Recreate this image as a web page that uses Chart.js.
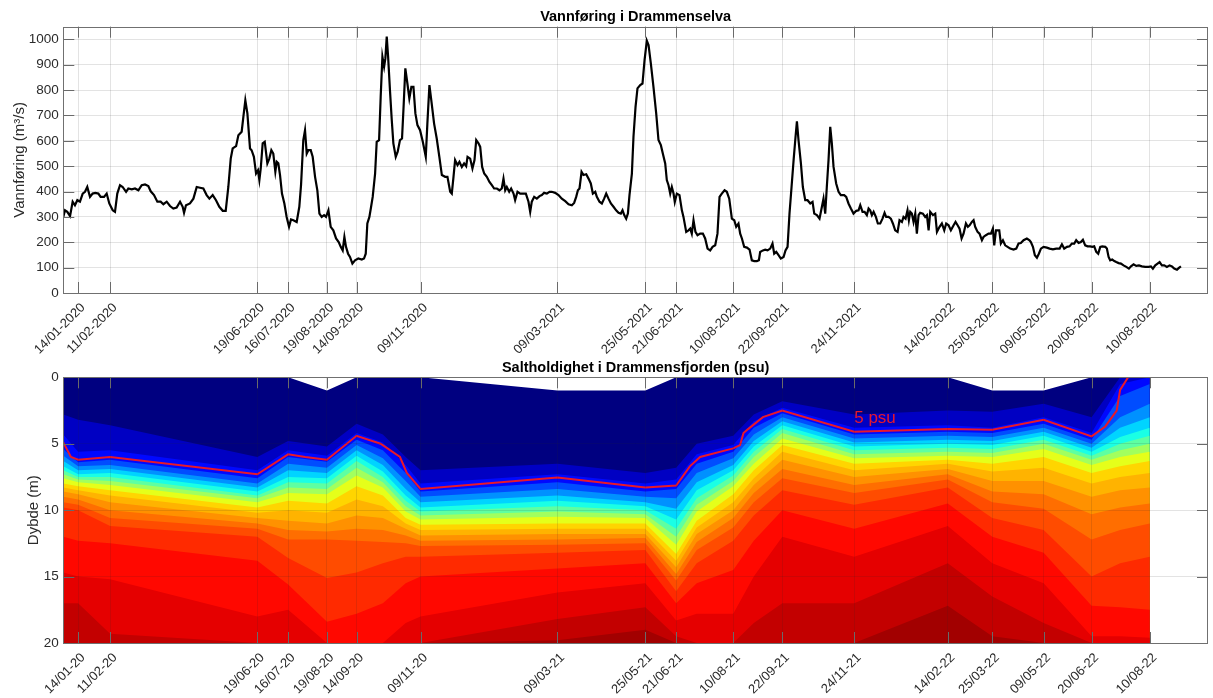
<!DOCTYPE html>
<html><head><meta charset="utf-8"><title>Vannføring og saltholdighet</title>
<script src="https://cdn.jsdelivr.net/npm/chart.js@4.4.1/dist/chart.umd.min.js"></script>
<style>
html,body{margin:0;padding:0;background:#fff;}
body{width:1213px;height:698px;position:relative;overflow:hidden;}
canvas{position:absolute;left:0;}
#flow{top:0;}
#salt{top:350px;}
</style></head><body>
<canvas id="flow" width="1213" height="360"></canvas>
<canvas id="salt" width="1213" height="348"></canvas>
<script>
// ---------- axis ticks (days since 01/01-2020) ----------
const tickDays = [13,41,170,197,231,257,313,433,510,537,587,630,693,775,814,859,901,952];
const tickLabelsFlow = ['14/01-2020','11/02-2020','19/06-2020','16/07-2020','19/08-2020','14/09-2020','09/11-2020','09/03-2021','25/05-2021','21/06-2021','10/08-2021','22/09-2021','24/11-2021','14/02-2022','25/03-2022','09/05-2022','20/06-2022','10/08-2022'];
const tickLabelsSalt = ['14/01-20','11/02-20','19/06-20','16/07-20','19/08-20','14/09-20','09/11-20','09/03-21','25/05-21','21/06-21','10/08-21','22/09-21','24/11-21','14/02-22','25/03-22','09/05-22','20/06-22','10/08-22'];
const X_MIN = 0, X_MAX = 1003;

// ---------- Vannføring (m3/s) ----------
const flowDayA = [0,1.5,3.5,5.9,8.2,10.2,12.3,14.6,17,19,
21,23.4,25.7,28,30.7,32.7,35.7,38,40.3,43.3,
45.3,47.3,49.7,52,55,57,60,62.8,65.8,68.7,
71.6,74.5,76.6,79.5,82.4,85.3,87.7,90.6,93.5,96.4,
99.3,102.3,104.6,105.8,107.5,111,114,116.9,119.8,122.7,
125.6,128,130.9,133.8,136.7,139.7,142.3,144.6,146.7,148.4,
151.4,153.4,156.3,157.8,159.5,161.3,163.6];
const flowQA = [300,326,320,303,360,346,366,360,392,399,
418,379,392,395,392,379,379,392,353,326,
320,392,425,418,399,412,409,412,405,425,
428,422,401,386,360,360,350,360,343,333,
337,360,340,316,346,353,372,418,415,412,
386,372,386,366,340,324,324,418,530,570,
579,622,636,695,760,708,570];
const flowDayB = [165,167,168.9,170.6,171.8,173,174.7,176.5,178.8,180.5,
182.3,184,185.8,187,188.4,189.9,191.6,193.7,195.7,197.8,
199.5,201.6,204.5,206.8,208.3,210.3,211.8,213.3,214.7,216.8,
218.5,220.6,222.6,224.4,226.4,228.5,230.2,232.3,234.3,236.6,
239,241.3,243.1,244.8,246.3,247.7,249.5,251.2,253.3,255.6,
258.5,261.5,263.5,265,266.4,268.2,269.7,271.1,273.2,274.6,
276.7,278.1,279.6,281.1,282.2,283.4,284.6,286.3,287.8,289.2,
291.3,293,295,296.8,298.3,299.7,301.5,303.2,305,306.8,
308.5,310.3,312.6,315,317.6,319,320.8,322.8,324.9,327.2,
329.5];
const flowQB = [563,537,471,484,445,491,590,596,511,530,
563,550,478,517,511,465,392,353,300,261,
290,287,280,340,425,603,642,550,563,563,
537,458,405,313,300,307,300,326,261,247,
215,201,182,168,221,182,155,142,116,129,
136,132,136,155,274,300,340,379,471,596,
603,774,932,892,925,1011,932,794,682,590,
537,557,603,609,747,886,826,767,813,813,
708,662,642,596,537,668,820,747,668,609,
537];
const flowDayC = [331.7,334.6,336.6,339,340.4,341.9,343.3,345.4,347.1,349.2,
351.2,353,354.2,356.5,358.5,360.3,361.8,363.8,365.3,367,
368.8,371.1,373.4,375.5,377.5,379.9,382.2,384.2,385.7,387.2,
388.6,390.7,392.4,394.5,395.9,398,400.3,402.7,405.3,407.6,
409.1,410.5,412.6,414.9,417.3,419.3,421.3,423.7,426,428,
431,433.9,436.8,439.8,442.7,445.6,447.6,449.4,450.9,452.3,
454.1,455.8,458.2,460.2,462.2,464,466.1,467.5,469.8,471.9,
473.9,475.7,477.7,479.8,482.1,484.4,486.5,488.5,490,491.5,
493.2,494.7,496.1];
const flowQC = [465,458,458,399,392,458,524,504,517,497,
511,500,537,530,491,524,603,590,576,497,
471,458,438,425,412,412,405,412,451,405,
418,399,412,392,366,399,392,392,392,360,
320,360,379,372,382,386,395,392,399,399,
395,386,372,362,350,346,355,379,405,412,
478,465,468,451,432,392,399,379,360,353,
372,392,372,353,340,326,316,313,326,307,
293,313,386];
const flowDayD = [498.2,499.6,501.4,503.1,505.5,507.5,509.3,511.3,512.8,514.8,
517.1,519.5,521.5,523.6,525.3,527.4,528.8,530.3,531.8,533.2,
534.7,535.8,537.6,539.9,542,543.4,545.8,547.8,549.3,550.7,
552.2,553.9,555.7,558,560.4,562.4,564.5,566.8,568.9,571.2,
573.2,575,577,579.4,581.4,583.5,585.8,587.9,589.6,591.6,
593.1,594.6,596.6,599,601.3,603.3,605.4,607.7,609.5,610.6,
613,615,617.1,619.4,621.4,622.9,624.7,626.7,628.7,631.1,
632.8,634.6,636.3,638.1,639.9,641.6,642.8,644.2,646.3,648,
650.1,652.1,654.5,656.5,658,660.3,662.6];
const flowQD = [471,616,734,807,820,826,918,995,978,905,
813,708,603,583,550,511,445,425,392,418,
392,359,392,386,326,300,241,247,254,234,
287,241,228,234,234,215,175,168,182,188,
234,379,392,405,399,372,293,287,261,274,
234,215,182,179,171,129,126,126,129,162,
168,171,168,175,195,155,162,149,136,142,
168,182,313,418,524,616,677,603,511,418,
366,366,353,359,313,307,293];
const flowDayE = [664.7,666.1,667.6,669,670.5,672,673.4,674.9,677.2,679.3,
681.3,684.2,686,688,690.1,692.4,694.8,696.8,698.3,700.3,
702.1,704.1,705.6,707,708.5,710,712,713.7,715.8,717.8,
719.6,721,723.1,725.1,726.9,728.9,731,732.7,734.8,736.2,
738,739.7,740.9,742.1,743.5,745,746.5,747.9,749.4,750.8,
753.2,755.2,756.7,758.2,759.6,762,764,765.5,767.8,769.8,
771.9,773.6,775.7,777.7,780.1,781.8,783.6,785.3,787.1,788.8,
790.9,792.6,794.1,796.1,797.6,799,801.1,802.8,804.9,806.3,
808.4,810.7,812.8,814.5,815.7,817.2,818.6,820.1,821.5,823.3,
825.3,827.4];
const flowQE = [340,372,313,418,524,655,590,497,432,399,
386,386,379,353,333,313,324,326,346,320,
320,307,333,326,307,320,300,274,274,293,
316,300,300,293,274,247,241,287,280,300,
293,326,287,320,313,280,313,234,307,316,
313,300,307,247,320,307,313,241,261,274,
247,274,267,247,267,280,267,254,215,234,
274,261,267,280,287,261,241,234,208,221,
228,234,234,254,188,247,247,247,195,208,
188,182];
const flowDayF = [829.7,832.6,835,837,839,841.4,844.3,846.6,847.8,849.6,
851.3,853.1,854.8,856.6,858.9,861.8,864.2,867.1,870,873,
875,877,879.4,881.7,883.7,885.8,887.5,889.6,891.6,893.4,
895.4,897.5,899.8,901.6,903.3,905.1,906.8,908.6,910.3,913,
914.4,915.9,917.3,919.1,920.9,922.6,924.7,926.7,929,931.4,
933.7,935.5,937.8,940.1,942.5,945.1,948,951,953,954.7,
956.8,958.8,960.6,962.6,964.7,967,969.3,971.4,973.4,975.8,
977.8,979.3];
const flowQF = [175,171,175,195,197,208,215,208,201,182,
149,139,155,175,182,179,175,172,175,175,
192,175,182,184,195,195,208,197,201,210,
188,184,184,182,184,162,155,182,184,182,
175,142,129,132,126,122,118,116,109,103,
96,105,113,107,109,105,103,103,105,96,
109,116,122,109,109,103,109,105,96,92,
100,105];
const flowTicksY = {min: 0, max: 1050, step: 100};

// ---------- Saltholdighet: depth (m) of each salinity level at each profile ----------
const stationDays = [0,13,41,170,197,231,257,280,300,313,433,510,537,555,587,605,630,693,775,814,859,901,926,952];
const topDepth    = [0,0,0,0,0,1,0,0,0,0,1,1,0,0,0,0,0,0,0,1,1,0,0,0];
const levels = [2,4,6,8,10,12,14,16,18,20,21,22,23,24,25,26,27,28,29];
const iso02 = [2.8,3.2,3.6,6.0,4.8,5.2,3.5,4.3,6.0,7.0,6.5,7.2,6.8,5.0,4.4,2.8,1.8,2.8,2.5,2.6,2.0,3.0,0,0];
const iso04 = [4.3,5.6,5.5,7.0,5.5,5.9,4.2,4.9,6.6,8.0,7.3,8.0,7.7,5.8,5.1,3.3,2.3,3.8,3.6,3.8,3.0,4.2,0.5,0];
const iso06 = [5.4,6.4,6.2,7.6,6.0,6.35,4.7,5.5,7.2,8.6,7.9,8.6,8.4,6.5,5.6,3.8,2.7,4.3,4.1,4.2,3.5,4.7,1.4,0.5];
const iso08 = [5.9,6.7,6.6,8.0,6.5,6.8,5.1,6.1,7.8,9.0,8.4,9.0,9.1,7.2,6.1,4.3,3.0,4.6,4.4,4.5,3.8,5.0,3.0,2.0];
const iso10 = [6.3,7.0,6.9,8.3,7.0,7.2,5.5,6.6,8.4,9.4,8.9,9.4,9.9,7.9,6.6,4.8,3.3,4.9,4.7,4.8,4.1,5.3,3.8,3.0];
const iso12 = [6.7,7.3,7.2,8.6,7.5,7.6,5.9,7.1,8.9,9.8,9.3,9.7,10.7,8.5,7.0,5.2,3.6,5.2,5.0,5.1,4.4,5.6,4.5,3.8];
const iso14 = [7.0,7.5,7.5,8.9,7.9,8.0,6.3,7.5,9.3,10.1,9.7,10.0,11.4,9.1,7.4,5.6,3.9,5.5,5.3,5.4,4.7,5.9,5.0,4.4];
const iso16 = [7.3,7.7,7.8,9.1,8.3,8.4,6.8,7.9,9.7,10.4,10.1,10.3,12.0,9.6,7.8,6.0,4.2,5.8,5.6,5.7,5.0,6.2,5.5,5.0];
const iso18 = [7.6,7.9,8.1,9.4,8.7,8.8,7.4,8.3,10.1,10.7,10.5,10.6,12.6,10.1,8.2,6.5,4.6,6.1,5.9,6.0,5.4,6.6,6.0,5.6];
const iso20 = [8.0,8.2,8.5,9.8,9.3,9.5,8.2,8.9,10.6,11.1,11.0,11.0,13.3,10.8,8.8,7.0,5.1,6.5,6.2,6.5,6.0,7.2,6.7,6.3];
const iso21 = [8.3,8.5,8.9,10.2,10.0,10.2,9.2,9.7,11.0,11.5,11.4,11.4,13.8,11.3,9.4,7.6,5.6,7.0,6.5,7.1,6.8,8.0,7.5,7.2];
const iso22 = [8.6,8.8,9.4,10.6,10.8,11.0,10.4,10.6,11.4,11.9,11.8,11.8,14.3,11.8,10.0,8.1,6.2,7.5,6.9,7.8,7.8,9.0,8.5,8.3];
const iso23 = [9.0,9.2,10.0,11.0,11.5,11.6,11.4,11.5,11.9,12.3,12.2,12.1,14.8,12.4,10.6,8.7,6.9,8.1,7.3,8.6,8.8,10.3,9.8,9.5];
const iso24 = [9.4,9.6,10.6,11.4,12.2,12.2,12.3,12.4,12.5,12.7,12.6,12.5,15.3,13.0,11.3,9.4,7.6,8.7,7.7,9.4,9.9,12.2,11.5,11.0];
const iso25 = [9.8,10.0,11.2,12.0,13.6,15.1,14.7,14.0,13.5,13.5,13.2,13.0,16.1,14.0,12.3,10.4,8.5,9.6,8.3,10.6,11.5,15.0,14.0,13.5];
const iso26 = [12.0,12.3,12.5,13.8,15.6,18.4,17.8,17.0,15.5,15.0,14.4,14.0,17.0,15.5,14.5,12.3,10.0,11.4,9.5,12.0,13.2,17.2,17.3,17.5];
const iso27 = [14.7,15.0,15.2,18.0,17.5,20,20,20,18.5,18.0,16.2,15.5,18.3,17.8,17.8,15.0,12.0,13.5,11.2,14.0,15.5,19.5,19.5,19.6];
const iso28 = [17.0,17.0,19.3,20,20,20,20,20,20,20,18.2,17.3,19.5,20,20,18.5,17.0,17.0,14.0,16.5,18.5,20,20,20];
const iso29 = [20,20,20,20,20,20,20,20,20,20,19.8,19.0,20,20,20,20,20,20,17.2,19.5,20,20,20,20];
const colorMin = 0, colorMax = 30;

// 5 psu contour
const psu5Day   = [0,6.7,13,41,170,197,212,231,257,278,295,301,313,433,510,537,549,558,587,593,596,600,613,630,693,775,814,859,901,913,923,926,933];
const psu5Depth = [4.9,6.0,6.2,6.0,7.3,5.8,6.0,6.2,4.4,5.0,6.0,7.2,8.4,7.55,8.3,8.15,6.7,6.0,5.35,5.1,4.2,3.9,3.0,2.5,4.1,3.9,3.95,3.2,4.45,3.7,2.5,0.95,0];
const psu5Label = {text: '5 psu', day: 693, depth: 3.45};
const saltTicksY = {min: 0, max: 20, step: 5};

// ---------- styling ----------
const FONT = '"Liberation Sans", Arial, Helvetica, sans-serif';
const TXT = '#2b2b2b';
const GRID = 'rgba(38,38,38,0.13)';
Chart.defaults.font.family = FONT;
Chart.defaults.color = TXT;

function jet(t) {
  const c = v => Math.max(0, Math.min(1, v));
  const r = c(1.5 - Math.abs(4*t - 3)), g = c(1.5 - Math.abs(4*t - 2)), b = c(1.5 - Math.abs(4*t - 1));
  return `rgb(${Math.round(r*255)},${Math.round(g*255)},${Math.round(b*255)})`;
}

const framePlugin = {
  id: 'frame',
  afterDraw(chart, args, opts) {
    const {ctx, chartArea: a, scales: {x, y}} = chart;
    ctx.save();
    if (opts.label) {
      const L = opts.label;
      ctx.fillStyle = '#e8182a';
      ctx.font = '17px ' + FONT;
      ctx.textAlign = 'left'; ctx.textBaseline = 'alphabetic';
      ctx.fillText(L.text, x.getPixelForValue(L.day), y.getPixelForValue(L.depth));
    }
    const tl = 11;
    ctx.strokeStyle = '#6a6a6a'; ctx.lineWidth = 1;
    ctx.beginPath();
    x.ticks.forEach(t => {
      const px = Math.round(x.getPixelForValue(t.value)) + 0.5;
      ctx.moveTo(px, a.bottom); ctx.lineTo(px, a.bottom - tl);
      ctx.moveTo(px, a.top); ctx.lineTo(px, a.top + tl);
    });
    y.ticks.forEach(t => {
      const py = Math.round(y.getPixelForValue(t.value)) + 0.5;
      ctx.moveTo(a.left, py); ctx.lineTo(a.left + tl, py);
      ctx.moveTo(a.right, py); ctx.lineTo(a.right - tl, py);
    });
    ctx.stroke();
    ctx.strokeStyle = '#707070';
    ctx.strokeRect(Math.round(a.left) + 0.5, Math.round(a.top) + 0.5, Math.round(a.right) - Math.round(a.left) - 1, Math.round(a.bottom) - Math.round(a.top));
    ctx.fillStyle = '#000';
    ctx.font = 'bold 14.5px ' + FONT;
    ctx.textAlign = 'center'; ctx.textBaseline = 'alphabetic';
    ctx.fillText(opts.title, (a.left + a.right) / 2, a.top - 5.5);
    ctx.restore();
  }
};

function xScale(labels, axisHeight, pad, gridZ) {
  return {
    type: 'linear', min: X_MIN, max: X_MAX,
    afterBuildTicks: s => { s.ticks = tickDays.map(v => ({value: v})); },
    afterFit: s => { s.height = axisHeight; },
    ticks: {autoSkip: false, minRotation: 45, maxRotation: 45, padding: pad, labelOffset: 5,
            font: {size: 13}, color: TXT, callback: (v, i) => labels[i]},
    grid: {color: GRID, drawTicks: false, lineWidth: 1, z: gridZ},
    border: {display: false}
  };
}
function yScale(cfg, title, titlePad, reverse, gridZ) {
  return {
    type: 'linear', min: cfg.min, max: cfg.max, reverse: reverse,
    afterFit: s => { s.width = 63.3; },
    ticks: {stepSize: cfg.step, includeBounds: false, padding: 4.5, font: {size: 13.5}, color: TXT,
            callback: v => String(v)},
    grid: {color: GRID, drawTicks: false, lineWidth: 1, z: gridZ},
    border: {display: false},
    title: {display: true, text: title, font: {size: 15}, color: TXT, padding: {top: titlePad, bottom: 0}}
  };
}

// ---------- top chart ----------
const flowDay = [].concat(flowDayA, flowDayB, flowDayC, flowDayD, flowDayE, flowDayF);
const flowQ = [].concat(flowQA, flowQB, flowQC, flowQD, flowQE, flowQF);

new Chart(document.getElementById('flow'), {
  type: 'line',
  data: {datasets: [{
    label: 'Vannføring',
    data: flowDay.map((d, i) => ({x: d, y: flowQ[i]})),
    borderColor: '#000', borderWidth: 2.2, pointRadius: 0, tension: 0, fill: false
  }]},
  options: {
    responsive: false, animation: false, devicePixelRatio: 1, events: [],
    layout: {padding: {top: 26.7, right: 5, left: 0, bottom: 0}},
    scales: {x: xScale(tickLabelsFlow, 67, 7, -1), y: yScale(flowTicksY, 'Vannføring (m³/s)', 10.5, false, -1)},
    plugins: {legend: {display: false}, tooltip: {enabled: false}, title: {display: false},
              frame: {title: 'Vannføring i Drammenselva'}}
  },
  plugins: [framePlugin]
});

// ---------- bottom chart ----------
const isoList = [iso02, iso04, iso06, iso08, iso10, iso12, iso14, iso16, iso18, iso20, iso21, iso22, iso23, iso24, iso25, iso26, iso27, iso28, iso29];
const saltSets = [{
  label: '5 psu',
  data: psu5Day.map((d, i) => ({x: d, y: psu5Depth[i]})),
  borderColor: '#e8182a', borderWidth: 2, pointRadius: 0, tension: 0, fill: false
}];
for (let k = isoList.length - 1; k >= 0; k--) {
  saltSets.push({
    label: levels[k] + ' psu',
    data: stationDays.map((d, i) => ({x: d, y: isoList[k][i]})),
    backgroundColor: jet((levels[k] - colorMin) / (colorMax - colorMin)),
    borderWidth: 0, pointRadius: 0, tension: 0, fill: {value: saltTicksY.max}
  });
}
saltSets.push({
  label: 'top',
  data: stationDays.map((d, i) => ({x: d, y: topDepth[i]})),
  backgroundColor: jet(0), borderWidth: 0, pointRadius: 0, tension: 0, fill: {value: saltTicksY.max}
});

new Chart(document.getElementById('salt'), {
  type: 'line',
  data: {datasets: saltSets},
  options: {
    responsive: false, animation: false, devicePixelRatio: 1, events: [],
    layout: {padding: {top: 27.3, right: 5, left: 0, bottom: 0}},
    scales: {x: xScale(tickLabelsSalt, 55, 7, 1), y: yScale(saltTicksY, 'Dybde (m)', 25, true, 1)},
    plugins: {legend: {display: false}, tooltip: {enabled: false}, title: {display: false},
              frame: {title: 'Saltholdighet i Drammensfjorden (psu)', label: psu5Label}}
  },
  plugins: [framePlugin]
});
</script>
</body></html>
